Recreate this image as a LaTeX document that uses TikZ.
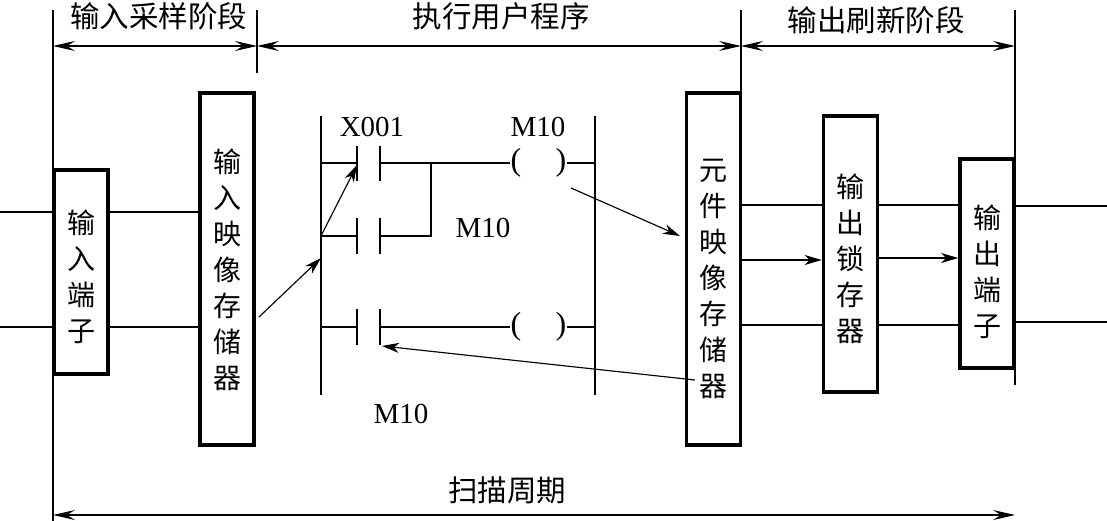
\documentclass[tikz,border=0pt]{standalone}
\usepackage{fontspec}
\setmainfont{Liberation Serif}
\newfontfamily\cjk{Noto Sans CJK SC}
\usetikzlibrary{arrows.meta,calc}
\newcommand{\lowertext}[1]{\rule{0pt}{#1pt}}
\tikzset{
  blockbox/.style={draw,line width=3.6pt,minimum width=54pt,inner sep=0pt,align=center,
     font=\cjk\fontsize{28}{36}\selectfont},
  wire/.style={line width=1.15pt},
  dimarrow/.style={line width=1.15pt,{Stealth[length=22pt,width=10pt,inset=8pt]}-{Stealth[length=22pt,width=10pt,inset=8pt]}},
  sig/.style={line width=1.15pt,-{Stealth[length=17pt,width=10pt,inset=5pt]}},
  head/.style={font=\cjk\fontsize{29.5}{29.5}\selectfont,inner sep=0pt},
  lbl/.style={font=\fontsize{29}{29}\selectfont,inner sep=0pt},
  paren/.style={font=\fontsize{32}{32}\selectfont,inner sep=0pt}
}
\begin{document}
\begin{tikzpicture}[x=1pt,y=-1pt]
\useasboundingbox (0,0) rectangle (1107,521);
% blocks
\node[blockbox,minimum height=204pt] (inport) at (81,272) {\lowertext{34}输\\入\\端\\子};
\node[blockbox,minimum height=352pt] (inmem) at (227,269) {\lowertext{26}输\\入\\映\\像\\存\\储\\器};
\node[blockbox,minimum height=352pt] (outmem) at (713.5,269) {\lowertext{42}元\\件\\映\\像\\存\\储\\器};
\node[blockbox,minimum height=276pt] (latch) at (850.5,254) {\lowertext{34}输\\出\\锁\\存\\器};
\node[blockbox,minimum height=209pt] (outport) at (987,263.5) {\lowertext{40}输\\出\\端\\子};
% levels and free ends
\coordinate (la) at (0,212); \coordinate (lb) at (0,327);
\coordinate (ra) at (0,205); \coordinate (rm) at (0,260); \coordinate (rb) at (0,325);
\coordinate (rm2) at (0,258);
\coordinate (qa) at (1107,206); \coordinate (qb) at (1107,322);
% input / output wires
\draw[wire] (la) -- (inport.west |- la);
\draw[wire] (lb) -- (inport.west |- lb);
\draw[wire] (inport.east |- la) -- (inmem.west |- la);
\draw[wire] (inport.east |- lb) -- (inmem.west |- lb);
\draw[wire] (outmem.east |- ra) -- (latch.west |- ra);
\draw[wire] (outmem.east |- rb) -- (latch.west |- rb);
\draw[sig] (outmem.east |- rm) -- (latch.west |- rm);
\draw[wire] (latch.east |- ra) -- (outport.west |- ra);
\draw[wire] (latch.east |- rb) -- (outport.west |- rb);
\draw[sig] (latch.east |- rm2) -- (outport.west |- rm2);
\draw[wire] (outport.east |- qa) -- (qa);
\draw[wire] (outport.east |- qb) -- (qb);
% dimension lines
\coordinate (t0) at (53,10); \coordinate (b0) at (53,521);
\coordinate (t1) at (257,10); \coordinate (b1) at (257,73);
\coordinate (t2) at (741,10); \coordinate (b2) at (741,93);
\coordinate (t3) at (1015,10); \coordinate (b3) at (1015,385);
\draw[wire] (t0) -- (b0);
\draw[wire] (t1) -- (b1);
\draw[wire] (t2) -- (b2);
\draw[wire] (t3) -- (b3);
\coordinate (d) at (0,46); \coordinate (s) at (0,515);
\draw[dimarrow] (t0 |- d) -- (t1 |- d);
\draw[dimarrow] (t1 |- d) -- (t2 |- d);
\draw[dimarrow] (t2 |- d) -- (t3 |- d);
\draw[dimarrow] (t0 |- s) -- (t3 |- s);
\node[head] (h1) at (158.5,16) {输入采样阶段};
\node[head] (h2) at (501,16) {执行用户程序};
\node[head] (h3) at (876,20) {输出刷新阶段};
\node[head] (h4) at (507,490) {扫描周期};
% ladder rails
\coordinate (ltop) at (321,116); \coordinate (lbot) at (321,395);
\coordinate (rtop) at (595,116); \coordinate (rbot) at (595,395);
\draw[wire] (ltop) -- (lbot);
\draw[wire] (rtop) -- (rbot);
% rung 1
\coordinate (c1l) at (357,163); \coordinate (c1r) at (380,163);
\node[paren] (p1l) at (516,163) {(};
\node[paren] (p1r) at (561,163) {)};
\draw[wire] (ltop |- c1l) -- (c1l);
\draw[wire] (c1r) -- (p1l.west);
\draw[wire] (p1r.east) -- (rtop |- c1l);
\draw[wire] ($(c1l)+(0,-17)$) -- ($(c1l)+(0,18)$);
\draw[wire] ($(c1r)+(0,-17)$) -- ($(c1r)+(0,18)$);
% rung 2
\coordinate (c2l) at (357,236); \coordinate (c2r) at (380,236); \coordinate (j) at (431,163);
\draw[wire] (ltop |- c2l) -- (c2l);
\draw[wire] (c2r) -| (j);
\draw[wire] ($(c2l)+(0,-18)$) -- ($(c2l)+(0,18)$);
\draw[wire] ($(c2r)+(0,-18)$) -- ($(c2r)+(0,18)$);
% rung 3
\coordinate (c3l) at (357,327); \coordinate (c3r) at (380,327);
\node[paren] (p3l) at (516,327) {(};
\node[paren] (p3r) at (561,327) {)};
\draw[wire] (ltop |- c3l) -- (c3l);
\draw[wire] (c3r) -- (p3l.west);
\draw[wire] (p3r.east) -- (rtop |- c3l);
\draw[wire] ($(c3l)+(0,-18)$) -- ($(c3l)+(0,18)$);
\draw[wire] ($(c3r)+(0,-18)$) -- ($(c3r)+(0,18)$);
% labels
\node[lbl] (x1) at (372,127) {X001};
\node[lbl] (m1) at (538,127) {M10};
\node[lbl] (m2) at (483,228) {M10};
\node[lbl] (m3) at (401,414) {M10};
% flow arrows
\coordinate (f1) at (321,236); \coordinate (f1e) at (357,165);
\coordinate (f2) at (259,317); \coordinate (f2e) at (321,258);
\coordinate (f3) at (571,188); \coordinate (f3e) at (680,236);
\coordinate (f4) at (695,380); \coordinate (f4e) at (382,346);
\draw[sig] (f1) -- (f1e);
\draw[sig] (f2) -- (f2e);
\draw[sig] (f3) -- (f3e);
\draw[sig] (f4) -- (f4e);
\end{tikzpicture}
\end{document}
